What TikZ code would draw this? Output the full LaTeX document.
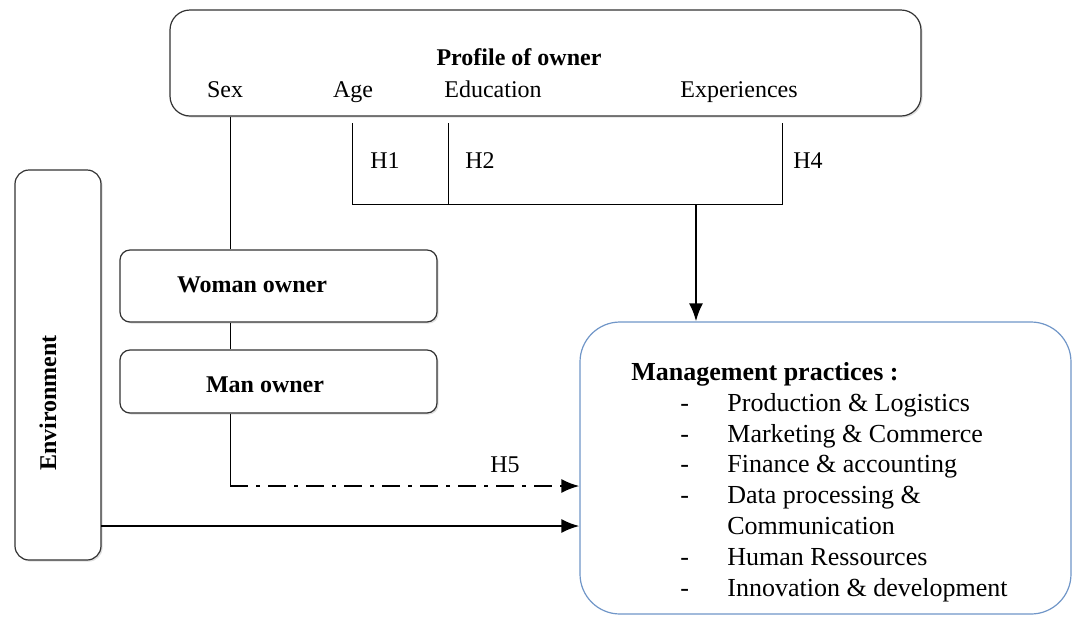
\documentclass[tikz,border=0pt]{standalone}
\usepackage{fontspec}
\setmainfont{Liberation Serif}
\usetikzlibrary{arrows.meta,shadows}
\definecolor{mgblue}{RGB}{112,150,200}

\begin{document}
\begin{tikzpicture}[x=0.5pt,y=-0.5pt,
  box/.style={draw=black!80, line width=0.6pt, fill=white, rounded corners=#1,
    drop shadow={shadow xshift=0.8pt, shadow yshift=-0.8pt, opacity=0.25}},
  box/.default=5pt,
  lbl/.style={font=\fontsize{12}{14}\selectfont, inner sep=0pt, anchor=base},
  blbl/.style={lbl, font=\fontsize{12}{14}\selectfont\bfseries},
  item/.style={font=\fontsize{13}{15.5}\selectfont, inner sep=0pt, anchor=base west},
  link/.style={draw, line width=0.5pt},
  arr/.style={draw, line width=1.1pt, -{Latex[length=9pt,width=7pt]}}]
\useasboundingbox (0,0) rectangle (1072,618);

% boxes
\node[box=10pt, minimum width=375.5pt, minimum height=53pt] (profile) at (545.5,63) {};
\node[box=7pt, minimum width=43pt, minimum height=195pt] (env) at (58,365) {};
\node[box, minimum width=158.5pt, minimum height=36pt] (woman) at (278.5,286) {};
\node[box, minimum width=158.5pt, minimum height=31.5pt] (man) at (278.5,381.5) {};
\node[draw=mgblue, line width=0.6pt, rounded corners=20pt, fill=white,
  minimum width=245.5pt, minimum height=146pt] (mgmt) at (825.5,468) {};

% labels
\node[blbl] (proftitle) at (519,65) {Profile of owner};
\node[lbl] (sexlbl) at (225,97) {Sex};
\node[lbl] (agelbl) at (353,97) {Age};
\node[lbl] (edulbl) at (493,97) {Education};
\node[lbl] (explbl) at (739,97) {Experiences};
\node[lbl] (h1) at (385,168) {H1};
\node[lbl] (h2) at (480,168) {H2};
\node[lbl] (h4) at (808,168) {H4};
\node[lbl] (h5) at (505,472) {H5};
\node[blbl] (womanlbl) at (252,292) {Woman owner};
\node[blbl] (manlbl) at (265,392) {Man owner};
\node[blbl, rotate=90] (envlbl) at (56,403) {Environment};

% management practices
\node[item, font=\fontsize{13}{15.5}\selectfont\bfseries] (mgtitle) at (631,380) {Management practices :};
\foreach \yy/\txt [count=\i] in {411/Production \& Logistics, 442/Marketing \& Commerce,
    472/Finance \& accounting, 503/Data processing \&, 565/Human Ressources,
    596/Innovation \& development} {
  \node[item] (dash\i) at (680,\yy) {-};
  \node[item] (item\i) at (727,\yy) {\txt};
}
\node[item] (item7) at (727,534) {Communication};

% connectors
\coordinate (sexfoot) at (230,486);
\coordinate (agetop) at (352,123);
\coordinate (edutop) at (448,123);
\coordinate (exptop) at (782,123);
\coordinate (barL) at (352,204);
\coordinate (barM) at (696,204);
\coordinate (envout) at (101,526);

\path[link] (profile.south -| sexfoot) -- (woman.north -| sexfoot);
\path[link] (woman.south -| sexfoot) -- (man.north -| sexfoot);
\path[link] (man.south -| sexfoot) -- (sexfoot);
\path[link] (agetop) -- (barL) -- (barL -| exptop) -- (exptop);
\path[link] (edutop) -- (edutop |- barL);

\path[arr] (barM) -- (mgmt.north -| barM);
\path[arr, dash pattern=on 9pt off 4pt on 2pt off 4pt] (sexfoot) -- (mgmt.west |- sexfoot);
\path[arr] (envout) -- (mgmt.west |- envout);
\end{tikzpicture}
\end{document}
